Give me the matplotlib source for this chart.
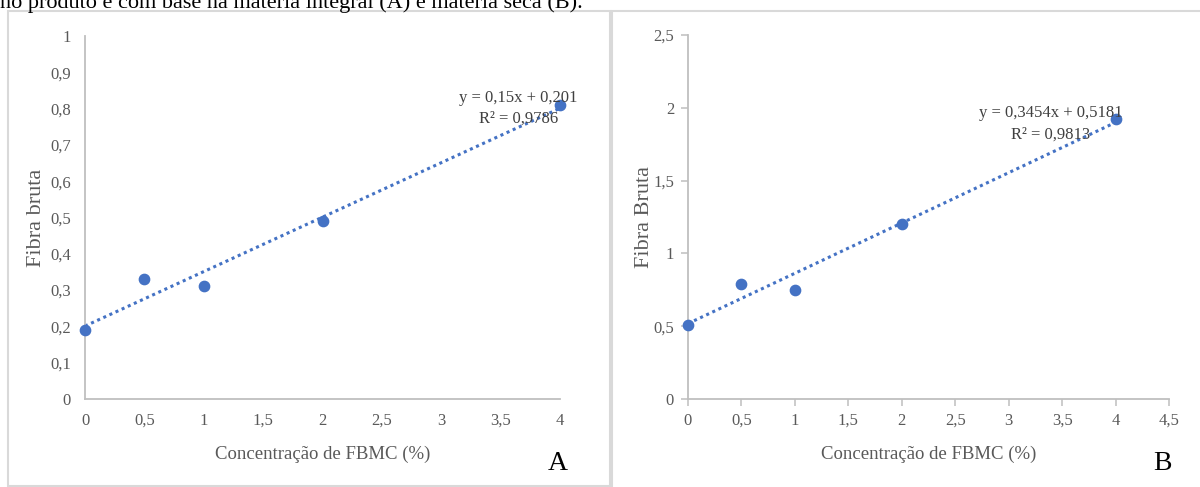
import matplotlib
matplotlib.use("Agg")
import matplotlib.pyplot as plt
import numpy as np
from matplotlib.patches import Rectangle

# data
conc = [0, 0.5, 1, 2, 4]
fibra_a = [0.19, 0.33, 0.31, 0.49, 0.81]
fibra_b = [0.51, 0.79, 0.75, 1.20, 1.92]

trend_a = (0.15, 0.201)
trend_b = (0.3454, 0.5181)
eq_a = "y = 0,15x + 0,201\nR² = 0,9786"
eq_b = "y = 0,3454x + 0,5181\nR² = 0,9813"

yticks_a = [0, 0.1, 0.2, 0.3, 0.4, 0.5, 0.6, 0.7, 0.8, 0.9, 1]
xticks_a = [0, 0.5, 1, 1.5, 2, 2.5, 3, 3.5, 4]
yticks_b = [0, 0.5, 1, 1.5, 2, 2.5]
xticks_b = [0, 0.5, 1, 1.5, 2, 2.5, 3, 3.5, 4, 4.5]

caption = "no produto e com base na matéria integral (A) e matéria seca (B)."

W, H = 1200, 487
BLUE = "#4472C4"
GRAY_TXT = "#595959"
GRAY_AX = "#BFBFBF"

plt.rcParams["font.family"] = ["Liberation Serif", "DejaVu Serif"]

fig = plt.figure(figsize=(W / 100, H / 100), dpi=100)


def px_box(x0, x1, ytop, ybot):
    return [x0 / W, 1 - ybot / H, (x1 - x0) / W, (ybot - ytop) / H]


def fmt(v):
    return f"{v:g}".replace(".", ",")


# panel frames
fig.patches.append(Rectangle((8 / W, 1 - 486 / H), (610 - 8) / W, (486 - 11) / H,
                             transform=fig.transFigure, fill=False,
                             edgecolor="#D9D9D9", lw=1.5))
fig.patches.append(Rectangle((612 / W, 1 - 490 / H), (1205 - 612) / W, (490 - 11) / H,
                             transform=fig.transFigure, fill=False,
                             edgecolor="#D9D9D9", lw=1.5))

# caption line cut off at the top, as in the source page
fig.text(0, 1 - 8 / H, caption, fontsize=16, ha="left", va="baseline", color="black")


def draw_panel(ax, y, trend, eq, eq_xy, xticks, yticks, xmax, ymax,
               ylabel, ylabel_x, tick_len):
    ax.scatter(conc, y, s=55, color=BLUE, zorder=3, clip_on=False)
    xs = np.array([min(conc), max(conc)])
    ax.plot(xs, trend[0] * xs + trend[1], linestyle=(0, (1, 1.2)), color=BLUE, lw=2.2)
    ax.set_xlim(0, xmax)
    ax.set_ylim(0, ymax)
    ax.set_xticks(xticks)
    ax.set_xticklabels([fmt(v) for v in xticks])
    ax.set_yticks(yticks)
    ax.set_yticklabels([fmt(v) for v in yticks])
    for side in ("top", "right"):
        ax.spines[side].set_visible(False)
    for side in ("left", "bottom"):
        ax.spines[side].set_color(GRAY_AX)
        ax.spines[side].set_linewidth(1.3)
    ax.tick_params(colors=GRAY_AX, labelcolor=GRAY_TXT, labelsize=12,
                   length=tick_len, width=1.1, direction="out", pad=10 - tick_len)
    ax.set_xlabel("Concentração de FBMC (%)", fontsize=13.5, color=GRAY_TXT, labelpad=12)
    ax.set_ylabel(ylabel, fontsize=16, color=GRAY_TXT)
    ax.yaxis.set_label_coords(ylabel_x, 0.5)
    ax.text(eq_xy[0], eq_xy[1], eq, ha="center", va="center", fontsize=12,
            color="#404040", linespacing=1.4)


ax_a = fig.add_axes(px_box(85, 560, 36, 399))
draw_panel(ax_a, fibra_a, trend_a, eq_a, (3.65, 0.80), xticks_a, yticks_a, 4, 1,
           "Fibra bruta", -0.082, 0)

ax_b = fig.add_axes(px_box(688, 1169, 35, 399))
draw_panel(ax_b, fibra_b, trend_b, eq_b, (3.39, 1.89), xticks_b, yticks_b, 4.5, 2.5,
           "Fibra Bruta", -0.07, 5)

fig.text(558 / W, 1 - 464 / H, "A", fontsize=20, ha="center", va="center", color="black")
fig.text(1162 / W, 1 - 464 / H, "B", fontsize=20, ha="center", va="center", color="black")

fig.savefig("out.png", dpi=100)
